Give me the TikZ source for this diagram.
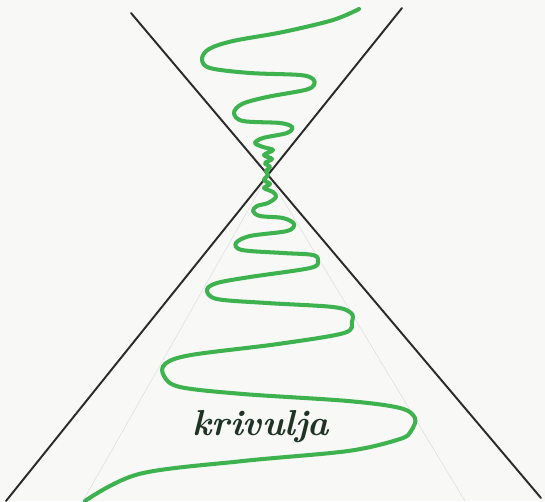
\documentclass[tikz,border=0pt]{standalone}
\definecolor{paper}{RGB}{248,248,247}
\definecolor{pencilgreen}{RGB}{62,178,78}
\definecolor{inkline}{RGB}{42,42,42}
\definecolor{inktext}{RGB}{32,52,38}
\definecolor{guide}{RGB}{225,225,225}
\tikzset{
  axisline/.style={draw=inkline, line width=1.1pt, line cap=round},
  guideline/.style={draw=guide, line width=0.35pt},
  wave/.style={draw=pencilgreen, line width=2.3pt, line cap=round, line join=round},
  label/.style={text=inktext, font=\fontsize{20.5}{24}\selectfont\bfseries\itshape, inner sep=0pt}
}
\begin{document}
\begin{tikzpicture}[x=0.02cm, y=-0.02cm]
\fill[paper] (0,0) rectangle (545,501);
\useasboundingbox (0,0) rectangle (545,501);
% named points
\coordinate (X) at (268,175);
\coordinate (A1) at (131,13);
\coordinate (A2) at (541,498);
\coordinate (B1) at (402,8);
\coordinate (B2) at (6,501);
\coordinate (G1) at (83,501);
\coordinate (G2) at (465,501);
% faint guide lines
\draw[guideline] (X) -- (G1);
\draw[guideline] (X) -- (G2);
% crossing lines
\draw[axisline] (A1) -- (A2);
\draw[axisline] (B1) -- (B2);
% green wave
\draw[wave] plot[smooth, tension=0.55] coordinates {
(359,9) (333,20) (283,32) (233,41) (209,49) (202,59) (210,68) (250,73) (300,75) (313,79) (314,85) (305,90) (267,97) (242,104) (234,113) (243,121) (280,123) (292,127) (287,133) (263,138) (255,143) (263,147) (273,150) (264,155) (272,159) (265,163) (270,167) (266,171) (268,175) (264,180) (270,184) (264,188) (273,192) (276,197) (268,203) (257,206) (253,211) (260,216) (283,218) (294,224) (287,231) (250,236) (236,243) (242,250) (283,253) (313,255) (318,261) (310,268) (250,277) (217,283) (207,290) (217,299) (267,303) (333,307) (351,313) (352,322) (344,333) (278,344) (191,355) (165,364) (164,376) (180,387) (243,394) (348,401) (400,408) (415,418) (411,431) (400,439) (348,451) (243,461) (139,474) (85,501)
};
\node[label, anchor=base] (lbl) at (261,435) {krivulja};
\end{tikzpicture}
\end{document}
